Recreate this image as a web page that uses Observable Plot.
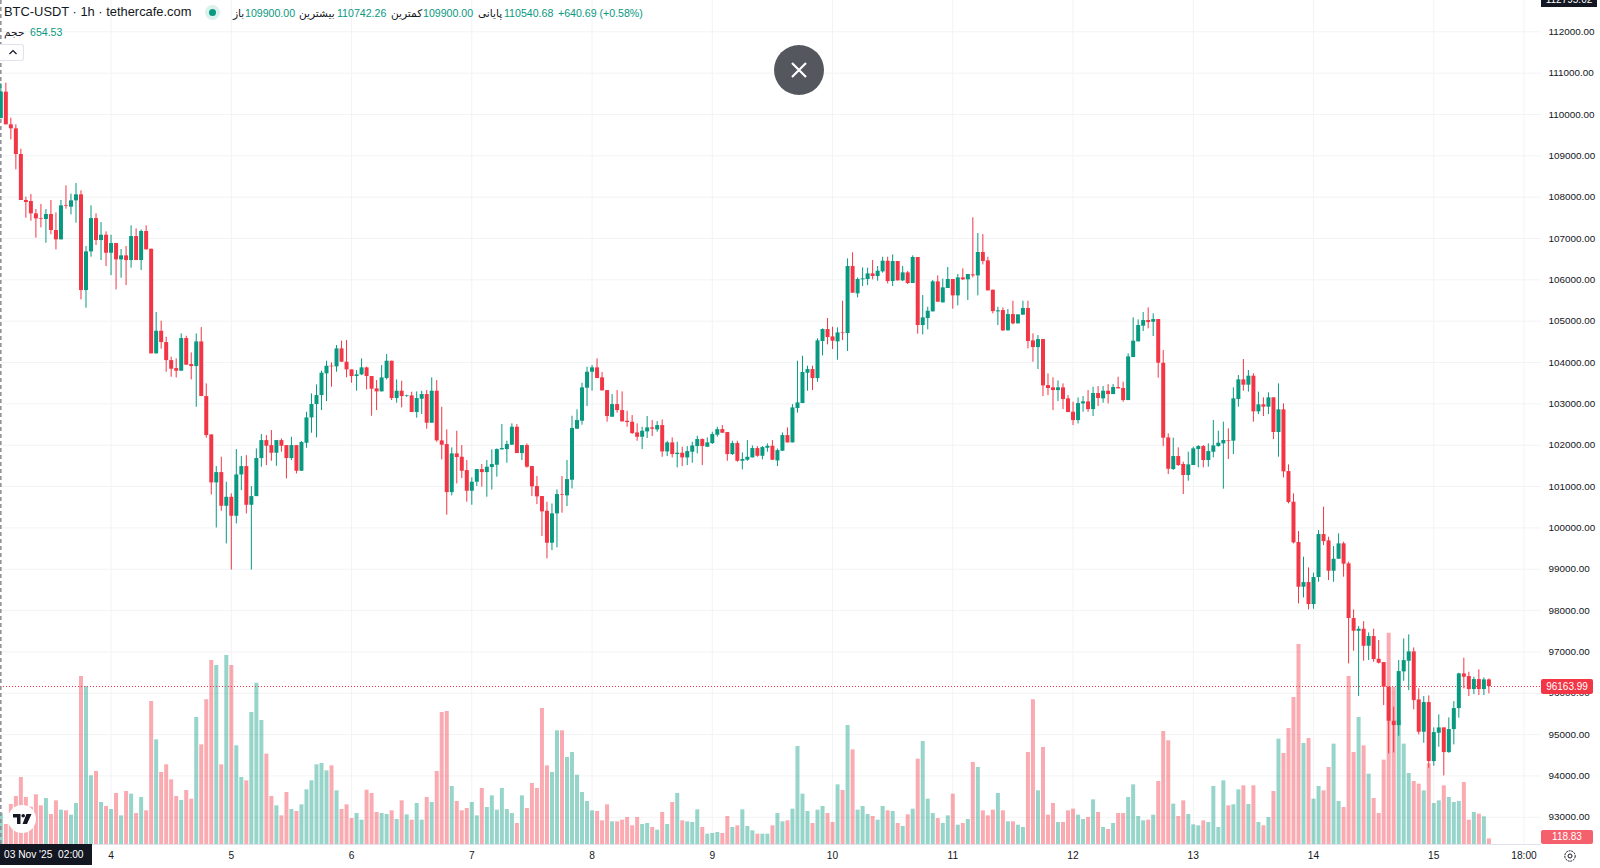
<!DOCTYPE html>
<html lang="fa">
<head>
<meta charset="utf-8">
<title>BTC-USDT</title>
<script src="https://cdn.jsdelivr.net/npm/d3@7"></script>
<script src="https://cdn.jsdelivr.net/npm/@observablehq/plot@0.6"></script>
<style>
html,body{margin:0;padding:0;background:#fff;overflow:hidden}
#stage{position:relative;width:1600px;height:868px;overflow:hidden;font-family:"Liberation Sans","DejaVu Sans",sans-serif;color:#131722}
#stage svg{display:block}
.o{position:absolute;white-space:nowrap;line-height:1}
.hdr{top:8px;font-size:10.6px}
.v{color:#089981}
.tag{position:absolute;left:1541px;width:52px;text-align:center;color:#fff;font-size:10px;line-height:15px;height:15px;border-radius:2px}
</style>
</head>
<body>
<div id="stage"></div>
<script>
const firstHour = Date.UTC(2025, 10, 3, 2);
const opens = [
109900,110540,109750,109653,109032,107919,107895,107596,107483,107459,
107580,107193,106967,107790,107757,107911,108056,105741,106677,107483,
106951,107080,106644,106878,106483,106580,106467,107048,106467,107169,
106741,104209,104757,104483,104047,103854,103790,104580,103951,103903,
104499,103177,102249,101088,101338,100523,100741,100281,101281,101483,
100547,100757,101677,102112,101991,101806,102112,101991,101677,101991,
101370,102048,102661,102984,103201,103726,103911,103895,104330,104008,
103822,103661,103701,103871,103661,103363,103290,103613,104032,103129,
103306,103177,103193,102790,103113,103226,102532,103306,102105,102016,
100854,101790,101709,101387,100887,101105,101411,101338,101460,101516,
101887,101895,102000,102435,101798,101992,101484,101000,100758,100403,
99629,100339,100806,100774,101153,102387,102580,103379,103766,103871,
103629,103322,102677,102983,102838,102580,102556,102298,102193,102322,
102419,102370,102475,101838,102056,101774,101806,101693,101830,101967,
102137,101951,102040,102242,102378,102306,101774,102040,101612,101637,
101693,101919,101733,101927,101975,101620,101854,102233,102056,102887,
103008,103741,103830,103612,104508,104798,104620,104500,104717,104701,
106322,105661,106000,106008,106145,106080,106193,106451,105959,106443,
105975,106169,105911,106540,104895,105064,105225,105951,105443,105790,
106008,105612,106048,106000,106121,106096,106661,106459,105750,105225,
105258,104766,105161,104935,105145,105306,104524,104362,104556,103443,
103387,103322,103387,103121,102798,102596,103000,103048,102862,103250,
103121,103306,103225,103395,103371,103080,104121,104500,104879,105016,
104975,105040,103983,102177,101412,101726,101533,101267,101509,101896,
101968,101630,101831,101968,102033,102114,102098,103105,103581,103452,
103670,102807,102977,102920,103146,102307,102856,101363,100621,99646,
98565,98678,98146,98799,99839,99686,98952,99242,99614,99130,
97807,97500,97549,97137,97372,96823,96742,96146,95323,95218,
96517,96775,97001,95839,95057,95775,94347,95033,95162,94565,
95122,95630,96469,96404,96090,96331,96090,96323];
const highs = [
110742,110758,109911,109750,109160,108000,108064,107701,107822,107701,
107919,107620,107919,108274,108072,108330,108153,106806,107790,107596,
107386,107161,107080,106878,106733,106806,107306,107233,107209,107306,
106741,105209,105000,104612,104128,104088,104693,104636,104233,104693,
104846,103483,102249,101483,101709,101104,100822,101894,101725,101749,
101000,101910,102257,102233,102354,102112,102153,101991,102192,101991,
102088,102798,103242,103459,103790,104032,103992,104411,104516,104532,
103822,103806,104089,103887,103661,103564,103927,104193,104032,103580,
103548,103210,103282,103290,103306,103322,103629,103564,102919,102371,
101935,102338,101992,101629,101210,101411,101532,101629,101887,101911,
102500,102097,102516,102500,101992,102032,101484,101242,100758,100621,
100580,100919,101242,101629,102701,102855,103500,103887,103927,104088,
103758,103322,103225,103322,103290,102822,102717,102516,102435,102693,
102596,102572,102612,102096,102177,102072,101951,101967,102072,102217,
102153,102177,102314,102435,102475,102306,102096,102096,101814,102112,
101983,101967,101967,102032,102112,101911,102298,102419,102983,104032,
104153,103911,103911,104572,104814,105064,104854,104838,105483,106508,
106653,106048,106290,106282,106467,106322,106548,106548,106604,106443,
106322,106201,106580,106540,105620,105338,105983,106096,106016,106298,
106008,106129,106266,106129,107500,107121,107096,106548,105750,105338,
105322,105282,105483,105153,105483,105483,104693,104653,104556,103725,
103629,103556,103483,103201,103040,103145,103177,103322,103403,103419,
103419,103467,103467,103645,103524,104209,105080,105032,105209,105322,
105177,105040,104290,102274,102170,101936,101589,101831,101952,101992,
101992,102033,102597,102339,102557,102396,103388,103686,104073,103807,
103727,103283,103146,103267,103146,103484,103001,101525,100823,99912,
99291,99033,98904,99936,100501,99775,99549,99855,99654,99170,
98017,97613,97734,97460,97549,97275,96742,96146,95662,96791,
97315,97412,97097,96105,95920,95936,95162,95477,95162,95404,
95799,96485,96848,96509,96388,96565,96372,96347];
const lows = [
109900,109750,109386,108660,107919,107491,107419,107007,107257,106886,
107088,106725,106967,107709,107572,107370,105515,105314,106548,106830,
106467,106322,106104,105757,106040,105862,106282,106467,106225,106725,
104209,104209,104322,103765,103644,103628,103790,103935,103580,102918,
103177,102168,100797,99999,100402,99612,98980,100096,100902,100338,
98980,100757,101467,101507,101612,101491,101830,101185,101628,101306,
101370,101927,102290,102177,102838,103056,103403,103766,104008,103629,
103500,103306,103685,103339,102701,102838,103290,103580,103080,103016,
102903,103160,102790,102653,102742,102387,102532,102072,101645,100306,
100774,101064,101193,100621,100548,101000,100984,100742,100919,101226,
101887,101564,102000,101798,101629,101444,100758,100564,99790,99250,
99451,99516,100355,100516,100943,102387,102484,102935,103306,103612,
103314,102556,102677,102774,102564,102435,102258,102096,101895,102161,
102209,102314,101709,101725,101693,101451,101483,101507,101564,101790,
101508,101951,102016,102193,102290,101612,101750,101588,101403,101612,
101693,101709,101645,101830,101636,101483,101854,102056,102056,102774,
103008,103306,103322,103524,104161,104427,104314,104056,104532,104266,
105677,105564,105838,105862,106000,105967,106161,105903,105838,105975,
105959,105887,105911,104685,104669,104790,105225,105459,105443,105790,
105290,105370,105983,105500,106048,105612,106362,105733,105177,104895,
104750,104766,104911,104935,105145,104330,104008,103830,103177,103201,
102838,103056,102862,102790,102475,102516,102798,102798,102693,102935,
103016,103000,103225,103363,103040,103080,104121,104500,104750,104814,
104629,103620,101967,101290,101388,101485,100807,101130,101509,101452,
101452,101468,101694,101952,100936,101654,101775,102920,103307,103283,
102557,102743,102694,102743,102138,101710,101210,100581,99613,98162,
98307,98017,98033,98686,99573,98726,98686,99242,98807,96710,
97017,95920,96775,96791,96750,96710,95702,94533,94557,94960,
96291,96065,95597,94992,94791,94186,94235,94694,93999,94549,
94751,95396,96106,95920,95968,95944,95944,95985];
const closes = [
110540.68,109750,109653,109032,107919,107870,107596,107475,107467,107580,
107193,106967,107790,107774,107911,108056,105741,106677,107483,106951,
107080,106644,106878,106483,106580,106467,107048,106467,107169,106725,
104209,104757,104483,104047,103838,103790,104580,103935,103903,104499,
103177,102233,101088,101338,100523,100741,100281,101281,101483,100547,
100757,101677,102112,101975,101806,102112,101975,101677,101991,101370,
102064,102661,102984,103201,103742,103911,103895,104330,104008,103822,
103661,103701,103871,103661,103355,103290,103629,104032,103129,103306,
103177,103193,102790,103129,103226,102532,103306,102105,102000,100854,
101790,101701,101370,100887,101105,101411,101338,101468,101532,101895,
101919,102016,102435,101798,101992,101468,100992,100750,100387,99629,
100339,100806,100790,101169,102403,102597,103387,103766,103871,103612,
103314,102693,102983,102838,102564,102548,102282,102193,102338,102419,
102387,102475,101838,102056,101774,101806,101693,101846,101983,102137,
101967,102056,102258,102378,102290,101774,102040,101612,101653,101709,
101919,101733,101943,101975,101636,101870,102233,102056,102903,103024,
103758,103830,103612,104524,104798,104604,104516,104717,104701,106322,
105677,106008,106024,106145,106080,106209,106451,105959,106443,105975,
106169,105911,106540,104895,105080,105241,105951,105459,105806,106008,
105612,106048,106000,106129,106096,106661,106443,105733,105233,105250,
104766,105161,104935,105153,105306,104508,104362,104556,103435,103371,
103322,103387,103105,102790,102596,103008,103048,102862,103250,103129,
103306,103225,103395,103363,103080,104137,104516,104895,105016,104967,
105040,103983,102169,101419,101726,101509,101267,101525,101912,101968,
101630,101847,101984,102049,102114,102098,103121,103581,103452,103670,
102807,102977,102920,103146,102307,102856,101355,100613,99638,98565,
98678,98146,98799,99839,99670,98952,99242,99614,99122,97807,
97500,97549,97137,97372,96815,96726,96146,95323,95218,96525,
96791,97001,95823,95057,95775,94347,95049,95162,94565,95122,
95630,96469,96388,96090,96331,96090,96323,96163.99];
const volumes = [
654.53,420,840,1008,1407,987,784,1043,812,966,
630,917,721,707,616,861,3528,3318,1442,1533,
882,798,735,1071,602,1113,1057,651,987,707,
3003,2198,1512,1673,1358,1008,924,1134,952,2667,
2093,3038,3864,3759,1673,3969,3759,2072,1407,1337,
2772,3388,2604,1897,1008,812,602,1092,735,693,
833,1148,1337,1673,1701,1547,1652,1127,735,833,
546,651,511,1141,1071,672,651,630,707,525,
917,623,511,861,511,987,882,1533,2772,2793,
1218,903,707,756,882,602,1176,777,1022,721,
1176,735,651,441,1022,756,1281,1176,2856,1652,
1512,2387,2387,1827,1932,1456,1092,903,707,693,
497,833,476,476,511,567,392,567,420,441,
357,301,672,420,882,1071,497,476,462,728,
357,217,231,252,231,588,357,392,728,378,
287,217,217,217,392,651,476,497,742,2058,
1057,693,441,721,798,651,462,1253,1134,2499,
1988,721,798,630,588,511,798,707,693,441,
378,623,742,1792,2163,952,651,546,441,602,
1057,406,441,525,1722,1617,707,602,721,1071,
707,476,476,406,357,1932,3038,1127,2037,616,
861,462,462,707,742,616,525,567,938,672,
357,315,441,651,651,987,1253,588,497,511,
616,1323,2373,2177,847,588,917,630,413,392,
497,462,1218,357,1337,812,833,1148,1232,840,
1232,462,392,567,1113,2212,1911,2436,3087,4200,
2121,2226,952,1218,1127,1617,2107,903,777,3528,
1932,2667,2072,1477,966,651,1771,4438,3297,2604,
2107,1491,1323,1267,1127,1694,861,917,1232,987,
882,903,1302,511,672,637,581,118.83];

const priceTicks = [93000,94000,95000,96000,97000,98000,99000,100000,101000,102000,103000,104000,105000,106000,107000,108000,109000,110000,111000,112000];
const dayNumbers = [4,5,6,7,8,9,10,11,12,13,14,15];
const lastPrice = 96163.99;
const lastVolume = 118.83;
const highPriceLabel = "112795.02";
const GREEN = "#089981", RED = "#F23645";
const VOL_GREEN = "rgba(8,153,129,0.42)", VOL_RED = "rgba(242,54,69,0.42)";

// Volume pane shares the frame with price: volume units map onto the price axis.
const volumeBase = 92342, priceDomainTop = 112757, pricePerVolume = 1.152;
const volY = v => volumeBase + v * pricePerVolume;

const hourMs = 3600000;
const rows = opens.map((o, i) => ({
  t: new Date(firstHour + i * hourMs),
  o, h: highs[i], l: lows[i], c: closes[i], v: volumes[i],
  up: closes[i] >= o
}));
const xTicks = dayNumbers.map(d => new Date(Date.UTC(2025, 10, d))).concat([new Date(Date.UTC(2025, 10, 15, 18))]);
const xFormat = d => d.getUTCHours() === 0 ? String(d.getUTCDate()) : "18:00";
const domainX = [new Date(firstHour - 4 * 60000), new Date(Date.UTC(2025, 10, 4) + 285.5 * hourMs)];
const ups = rows.filter(d => d.up), downs = rows.filter(d => !d.up);
const FONT = '"Liberation Sans","DejaVu Sans",sans-serif';

const chart = Plot.plot({
  width: 1600, height: 868,
  marginTop: 0, marginBottom: 24, marginLeft: 0, marginRight: 59,
  style: {background: "#fff", fontFamily: FONT, fontSize: "10px", color: "#131722"},
  x: {type: "utc", domain: domainX},
  y: {domain: [volumeBase, priceDomainTop]},
  marks: [
    Plot.ruleY(priceTicks, {stroke: "#f2f3f5", strokeWidth: 1}),
    Plot.ruleX(xTicks, {stroke: "#f2f3f5", strokeWidth: 1}),
    Plot.ruleY([volumeBase], {stroke: "#e0e3eb"}),
    Plot.ruleX(ups, {x: "t", y1: volumeBase, y2: d => volY(d.v), stroke: VOL_GREEN, strokeWidth: 4}),
    Plot.ruleX(downs, {x: "t", y1: volumeBase, y2: d => volY(d.v), stroke: VOL_RED, strokeWidth: 4}),
    Plot.ruleY([lastPrice], {stroke: RED, strokeWidth: 1, strokeDasharray: "1 2"}),
    Plot.ruleX([new Date(firstHour)], {stroke: "#8a8d94", strokeWidth: 1.5, strokeDasharray: "4 3"}),
    Plot.ruleX(ups, {x: "t", y1: "l", y2: "h", stroke: GREEN, strokeWidth: 1}),
    Plot.ruleX(downs, {x: "t", y1: "l", y2: "h", stroke: RED, strokeWidth: 1}),
    Plot.ruleX(ups, {x: "t", y1: "o", y2: "c", stroke: GREEN, strokeWidth: 4}),
    Plot.ruleX(downs, {x: "t", y1: "o", y2: "c", stroke: RED, strokeWidth: 4}),
    Plot.axisY(priceTicks, {anchor: "right", tickSize: 0, tickPadding: 7, tickFormat: d => d.toFixed(2), label: null, fill: "#131722", fontSize: 9.9}),
    Plot.axisX(xTicks, {anchor: "bottom", tickSize: 0, tickPadding: 7, tickFormat: xFormat, label: null, fill: "#131722", fontSize: 10.2})
  ]
});
const stage = document.getElementById("stage");
stage.appendChild(chart);

function add(html) { stage.insertAdjacentHTML("beforeend", html); }
const yScale = chart.scale("y");
const pad = n => n.toFixed(2);

// legend row
add(`<div class="o" style="left:4px;top:6px;font-size:12.9px">BTC-USDT · 1h · tethercafe.com</div>`);
add(`<div class="o" style="left:205px;top:5px;width:15px;height:15px;border-radius:50%;background:rgba(8,153,129,.14)"></div>`);
add(`<div class="o" style="left:209px;top:9px;width:7px;height:7px;border-radius:50%;background:${GREEN}"></div>`);
const legendBits = [[233,"باز",0],[245,"109900.00",1],[299,"بیشترین",0],[337,"110742.26",1],[391,"کمترین",0],[423,"109900.00",1],[478,"پایانی",0],[504,"110540.68",1],[558,"+640.69 (+0.58%)",1]];
legendBits.forEach(([x, s, val]) => add(`<div class="o hdr${val ? " v" : ""}" style="left:${x}px">${s}</div>`));
add(`<div class="o" style="left:4px;top:27px;font-size:10.6px">حجم</div>`);
add(`<div class="o v" style="left:30px;top:27px;font-size:10.6px">${volumes[0]}</div>`);
add(`<div class="o" style="left:0;top:44px;width:24px;height:17px;border:1px solid #e0e3eb;border-left:none;border-radius:0 3px 3px 0;box-sizing:border-box;background:#fff"><svg width="24" height="15" style="position:absolute;left:0;top:0"><path d="M9.5 9 L13 5.5 L16.5 9" fill="none" stroke="#131722" stroke-width="1.2"/></svg></div>`);

// close button
add(`<div class="o" style="left:774px;top:45px;width:50px;height:50px;border-radius:50%;background:#54575e"><svg width="50" height="50"><path d="M18 18 L32 32 M32 18 L18 32" stroke="#fff" stroke-width="2.2" fill="none"/></svg></div>`);

// TradingView badge
add(`<div class="o" style="left:8px;top:805px;width:28px;height:28px;border-radius:50%;background:#fff"><svg width="28" height="28"><path d="M5 9 H12.5 V19 H9 V12.5 H5 Z M18.5 9 H23.5 L19 19 H14.5 Z" fill="#131722"/><circle cx="15.2" cy="10.8" r="1.8" fill="#131722"/></svg></div>`);

// price tags
add(`<div class="o" style="left:1541px;top:-8px;width:56px;height:15px;background:#131722;color:#fff;font-size:10px;line-height:15px;text-align:center">${highPriceLabel}</div>`);
add(`<div class="tag" style="top:${(yScale.apply(lastPrice) - 7.5).toFixed(1)}px;background:${RED}">${pad(lastPrice)}</div>`);
add(`<div class="tag" style="top:830px;background:#f4606c;height:14px;line-height:14px">${pad(lastVolume)}</div>`);

// crosshair time box + settings
add(`<div class="o" style="left:0;top:844px;width:92px;height:21px;background:#131722;color:#fff;font-size:10.2px;line-height:21px;text-indent:4px">03 Nov '25&nbsp;&nbsp;02:00</div>`);
add(`<div class="o" style="left:1563px;top:849px"><svg width="14" height="14"><circle cx="7" cy="7" r="5.2" fill="none" stroke="#131722" stroke-width="1" stroke-dasharray="2 .8"/><circle cx="7" cy="7" r="2" fill="none" stroke="#131722" stroke-width="1"/></svg></div>`);
</script>
</body>
</html>
